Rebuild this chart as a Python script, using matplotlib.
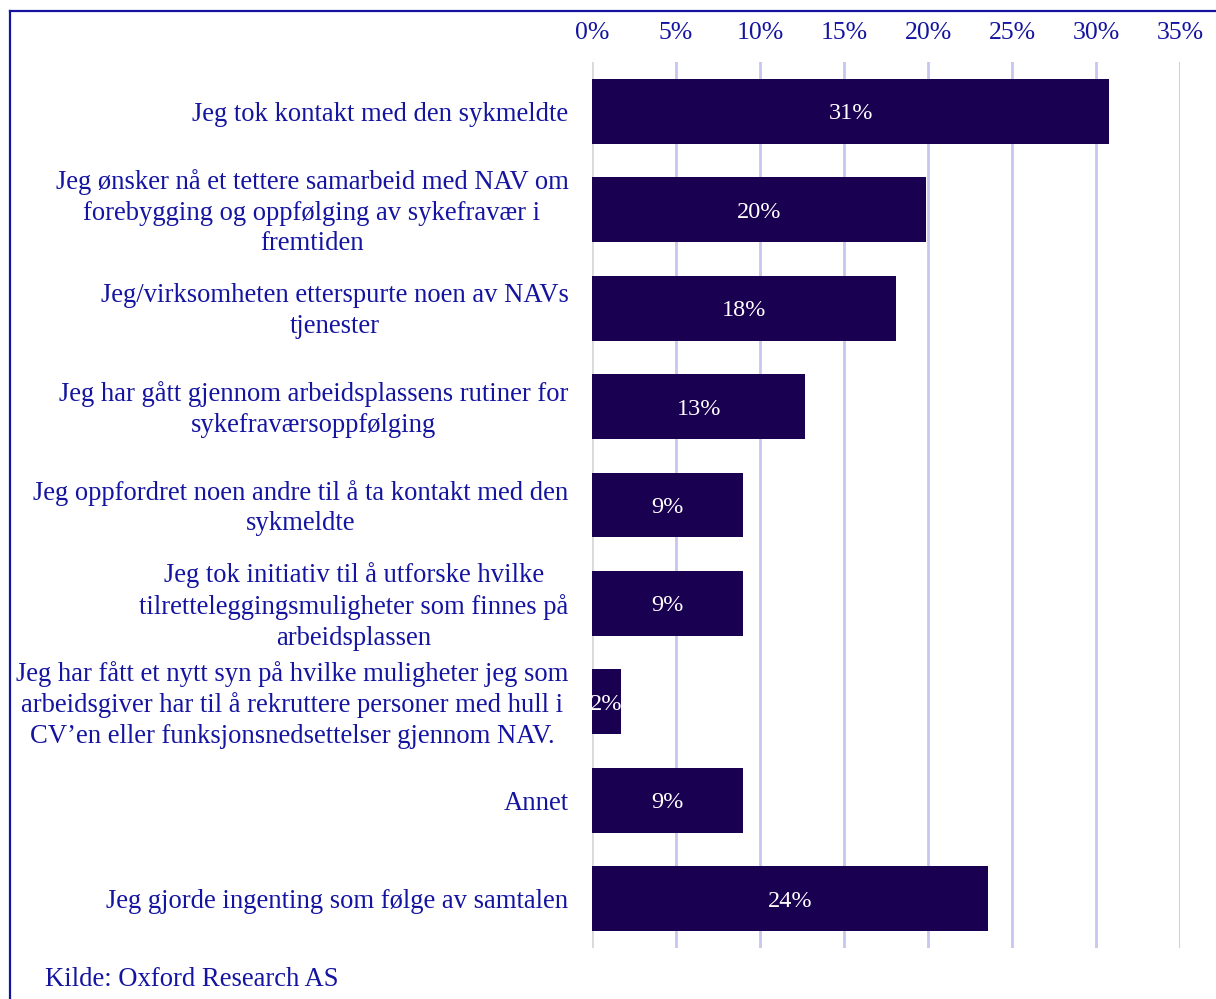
import matplotlib
matplotlib.use("Agg")
import matplotlib.pyplot as plt
from matplotlib.lines import Line2D
from matplotlib.transforms import ScaledTranslation

categories = [
    "Jeg tok kontakt med den sykmeldte",
    "Jeg ønsker nå et tettere samarbeid med NAV om\nforebygging og oppfølging av sykefravær i\nfremtiden",
    "Jeg/virksomheten etterspurte noen av NAVs\ntjenester",
    "Jeg har gått gjennom arbeidsplassens rutiner for\nsykefraværsoppfølging",
    "Jeg oppfordret noen andre til å ta kontakt med den\nsykmeldte",
    "Jeg tok initiativ til å utforske hvilke\ntilretteleggingsmuligheter som finnes på\narbeidsplassen",
    "Jeg har fått et nytt syn på hvilke muligheter jeg som\narbeidsgiver har til å rekruttere personer med hull i\nCV’en eller funksjonsnedsettelser gjennom NAV.",
    "Annet",
    "Jeg gjorde ingenting som følge av samtalen",
]
values = [30.8, 19.9, 18.1, 12.7, 9.0, 9.0, 1.7, 9.0, 23.6]
value_labels = ["31%", "20%", "18%", "13%", "9%", "9%", "2%", "9%", "24%"]
xticks = [0, 5, 10, 15, 20, 25, 30, 35]
xtick_labels = ["0%", "5%", "10%", "15%", "20%", "25%", "30%", "35%"]
source = "Kilde: Oxford Research AS"

TEXT = "#1414a0"
BAR = "#1a0050"
GRID = "#c6c6ee"

plt.rcParams['font.family'] = ['Liberation Serif', 'DejaVu Serif']

W, H = 1216, 999
fig = plt.figure(figsize=(W / 100, H / 100), dpi=100)
ax = fig.add_axes([592 / W, 1 - 948 / H, (1180 - 592) / W, (948 - 62) / H])

ypos = list(range(len(categories)))
bars = ax.barh(ypos, values, height=0.66, color=BAR, zorder=3)
for b, lab in zip(bars, value_labels):
    ax.text(b.get_x() + b.get_width() / 2, b.get_y() + b.get_height() / 2, lab,
            ha='center', va='center_baseline', color='white', fontsize=17.5, zorder=4)

ax.set_xlim(0, 35)
ax.set_ylim(len(categories) - 0.5, -0.5)
ax.set_xticks(xticks)
ax.set_xticklabels(xtick_labels, fontsize=18.5, color=TEXT)
ax.xaxis.tick_top()
ax.tick_params(axis='x', length=0, pad=13)
ax.set_yticks(ypos)
ax.tick_params(axis='y', length=0, pad=17)
ax.set_yticklabels(categories, fontsize=19.2, color=TEXT, ha='right', multialignment='center',
                   linespacing=1.3, va='center')
shift = ScaledTranslation(0, -3 / 100, fig.dpi_scale_trans)
for lbl in ax.get_yticklabels():
    lbl.set_transform(lbl.get_transform() + shift)

for s in ax.spines.values():
    s.set_visible(False)
ax.grid(False)
for x in xticks[1:]:
    ax.axvline(x, color=GRID, lw=2, zorder=1)
ax.axvline(0, color="#d9d9d9", lw=2, zorder=1)

# frame
fig.add_artist(Line2D([10 / W, 10 / W], [0, 1 - 11 / H], color=TEXT, lw=1.6, transform=fig.transFigure))
fig.add_artist(Line2D([10 / W, 1], [1 - 11 / H, 1 - 11 / H], color=TEXT, lw=1.6, transform=fig.transFigure))

fig.text(45 / W, 1 - 979 / H, source, fontsize=19.2, color=TEXT, ha='left', va='center')

fig.savefig("out.png", dpi=100)
